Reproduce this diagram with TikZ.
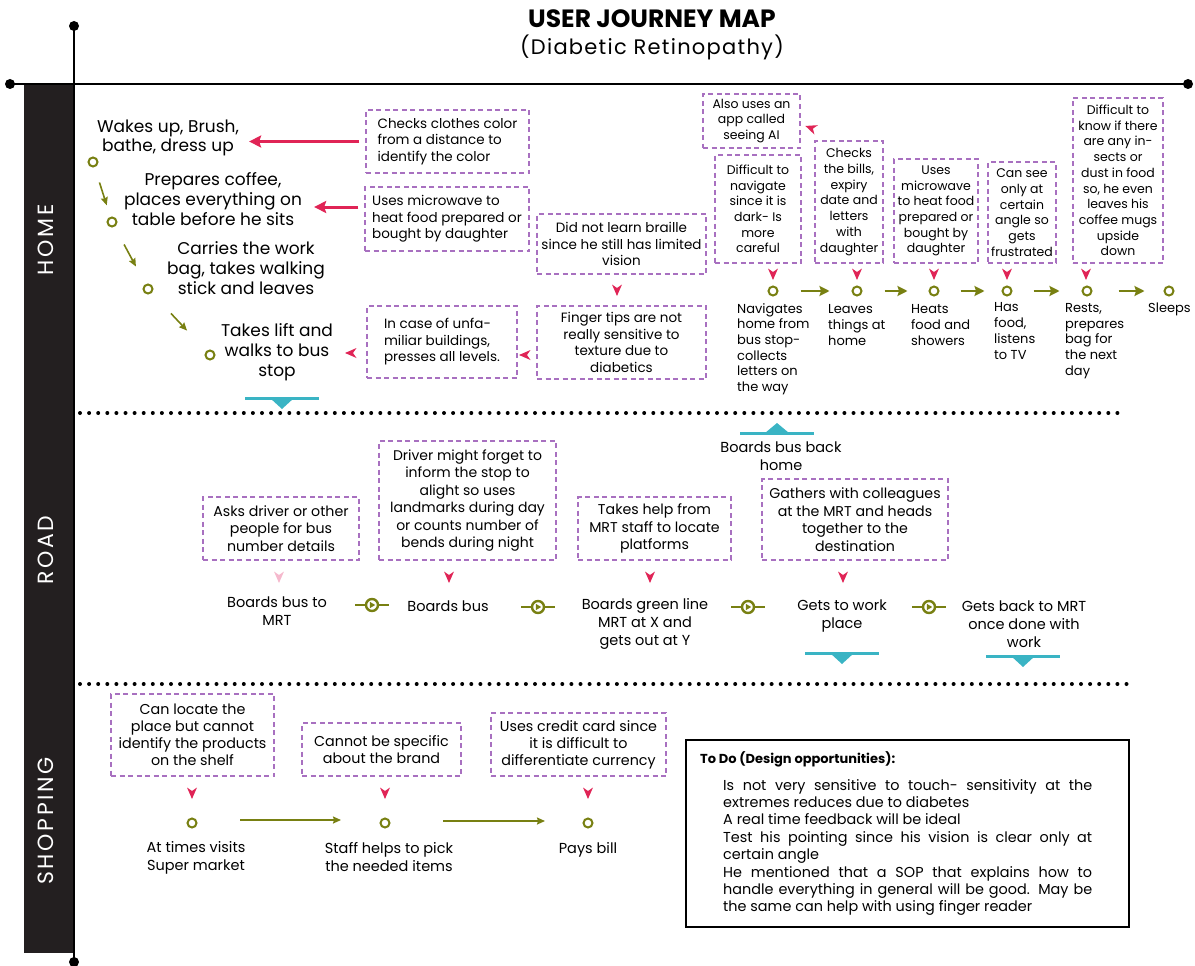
\documentclass[tikz,border=0pt]{standalone}
\usepackage{fontspec}
\setmainfont{Poppins}
\usetikzlibrary{arrows.meta}
\definecolor{olivec}{RGB}{120,128,18}
\definecolor{redc}{RGB}{224,36,86}
\definecolor{purc}{RGB}{168,112,192}
\definecolor{tealc}{RGB}{58,180,196}
\definecolor{bandc}{RGB}{35,31,32}
\definecolor{pinkc}{RGB}{245,185,205}
\tikzset{
  box/.style={draw=purc, line width=1.4pt, dash pattern=on 5pt off 3.5pt, inner sep=0pt, align=center, font=\fontsize{13.5}{16.5}\selectfont},
  lbox/.style={box, align=left},
  sbox/.style={box, font=\fontsize{12.5}{15.7}\selectfont},
  hlab/.style={inner sep=0pt, align=center, font=\fontsize{17}{19.8}\selectfont},
  rlab/.style={inner sep=0pt, align=left, anchor=west, font=\fontsize{13}{15.7}\selectfont},
  clab/.style={inner sep=0pt, align=center, font=\fontsize{14.5}{18}\selectfont},
  odot/.style={circle, draw=olivec, line width=2pt, minimum size=9pt, inner sep=0pt},
  oarr/.style={olivec, line width=1.6pt, -{Stealth[length=8pt,width=7pt,inset=1pt]}},
  oarrb/.style={olivec, line width=2.2pt, -{Stealth[length=10pt,width=10pt,inset=1.5pt]}},
  rarr/.style={redc, line width=3pt, -{Stealth[length=12pt,width=12pt,inset=2pt]}},
  sect/.style={rotate=90, text=white, font=\fontsize{22}{24}\selectfont\addfontfeatures{LetterSpace=12}},
  dotline/.style={line width=4pt, line cap=round, dash pattern=on 0pt off 9.1pt},
  pics/tipc/.style={code={\fill[#1] (0,6) -- (-5,-5.5) -- (0,-2) -- (5,-5.5) -- cycle;}},
  pics/olink/.style={code={
    \draw[olivec, line width=2.6pt] (-17,0) -- (17,0);
    \draw[olivec, line width=2.4pt, fill=white] (0,0) circle (6);
    \fill[olivec] (-2.2,-3.2) -- (3.2,0) -- (-2.2,3.2) -- cycle;}},
  pics/tmark/.style={code={
    \draw[tealc, line width=3pt] (-37,0) -- (37,0);
    \fill[tealc] (-12,0) -- (12,0) -- (0,#1) -- cycle;}},
}
\begin{document}
\begin{tikzpicture}[x=1pt, y=-1pt]
\useasboundingbox (0,0) rectangle (1195,966);
% frame
\fill[bandc] (24,84) rectangle (73,953);
\draw[line width=2.5pt] (10,84) -- (1188,84);
\draw[line width=2.5pt] (74,26) -- (74,962);
\foreach \p in {(10,84),(1188,84),(74,26),(74,962)} \fill \p circle (5);
\node[sect] (shome) at (46,240) {HOME};
\node[sect] (sroad) at (46,550) {ROAD};
\node[sect] (sshop) at (46,821) {SHOPPING};
\draw[dotline] (80,413) -- (1125,413);
\draw[dotline] (80,684) -- (1128,684);
% title
\node[font=\bfseries\fontsize{25}{28}\selectfont] (title) at (652,19) {USER JOURNEY MAP};
\node[font=\fontsize{21}{24}\selectfont\addfontfeatures{LetterSpace=6}] (subtitle) at (652,47) {(Diabetic Retinopathy)};

% ---------------- HOME ----------------
\node[hlab] (wake) at (168,138) {Wakes up, Brush,\\bathe, dress up};
\node[hlab] (prep) at (213,199) {Prepares coffee,\\places everything on\\table before he sits};
\node[hlab] (carr) at (246,268) {Carries the work\\bag, takes walking\\stick and leaves};
\node[hlab] (lift) at (277,352) {Takes lift and\\walks to bus\\stop};
\node[odot] (h1) at (93,162) {};
\node[odot] (h2) at (112,222) {};
\node[odot] (h3) at (148,289) {};
\node[odot] (h4) at (210,355) {};
\draw[oarr, shorten <=16pt, shorten >=12pt] (h1) -- (h2);
\draw[oarr, shorten <=20pt, shorten >=20pt] (h2) -- (h3);
\draw[oarr, shorten <=28pt, shorten >=28pt] (h3) -- (h4);

\node[lbox, minimum width=163pt, minimum height=63pt] (chk) at (447.5,141.5) {Checks clothes color\\from a distance to\\identify the color};
\node[lbox, minimum width=164pt, minimum height=64pt] (mic) at (447,219) {Uses microwave to\\heat food prepared or\\bought by daughter};
\node[box, minimum width=169pt, minimum height=60pt] (brl) at (621.5,244) {Did not learn braille\\since he still has limited\\vision};
\node[box, minimum width=169pt, minimum height=73pt] (fin) at (621.5,342.5) {Finger tips are not\\really sensitive to\\texture due to\\diabetics};
\node[lbox, minimum width=150pt, minimum height=72pt] (unf) at (442,342) {In case of unfa-\\miliar buildings,\\presses all levels.};
\draw[rarr, shorten <=6pt, shorten >=10pt] (chk.west) -- (chk.west -| wake.east);
\draw[rarr, shorten <=6pt, shorten >=12pt] ([yshift=12pt]mic.west) -- ([yshift=12pt]mic.west -| prep.east);
\pic at (617,290) {tipc=redc};
\pic[rotate=-90] at (525,355) {tipc=redc};
\pic[rotate=-90] at (351,353) {tipc=redc};
\pic at (282,398) {tmark=11};

% home right
\node[sbox, minimum width=97pt, minimum height=54pt] (app) at (751.5,121) {Also uses an\\app called\\seeing AI};
\node[sbox, minimum width=86pt, minimum height=108pt] (dif) at (758,209) {Difficult to\\navigate\\since it is\\dark- Is\\more\\careful};
\node[sbox, minimum width=68pt, minimum height=122pt] (bil) at (849,202) {Checks\\the bills,\\expiry\\date and\\letters\\with\\daughter};
\node[sbox, minimum width=84pt, minimum height=104pt] (mic2) at (936,211) {Uses\\microwave\\to heat food\\prepared or\\bought by\\daughter};
\node[sbox, minimum width=68pt, minimum height=101pt] (see) at (1022,212.5) {Can see\\only at\\certain\\angle so\\gets\\frustrated};
\node[sbox, minimum width=90pt, minimum height=165pt] (ins) at (1118,180.5) {Difficult to\\know if there\\are any in-\\sects or\\dust in food\\so, he even\\leaves his\\coffee mugs\\upside\\down};
\pic[rotate=-110] at (811,128) {tipc=redc};
\foreach \x in {773,857,934,1007,1086} \pic at (\x,274) {tipc=redc};
\node[odot] (r1) at (773,291) {};
\node[odot] (r2) at (857,291) {};
\node[odot] (r3) at (934,291) {};
\node[odot] (r4) at (1007,291) {};
\node[odot] (r5) at (1087,291) {};
\node[odot] (r6) at (1169,291) {};
\draw[oarrb, shorten <=22pt, shorten >=22pt] (r1) -- (r2);
\draw[oarrb, shorten <=22pt, shorten >=21pt] (r2) -- (r3);
\draw[oarrb, shorten <=21pt, shorten >=17pt] (r3) -- (r4);
\draw[oarrb, shorten <=21pt, shorten >=22pt] (r4) -- (r5);
\draw[oarrb, shorten <=26pt, shorten >=19pt] (r5) -- (r6);
\node[rlab] (nav) at (737,349) {Navigates\\home from\\bus stop-\\collects\\letters on\\the way};
\node[rlab] (lea) at (828,325) {Leaves\\things at\\home};
\node[rlab] (hea) at (911,325) {Heats\\food and\\showers};
\node[rlab] (has) at (994,331) {Has\\food,\\listens\\to TV};
\node[rlab] (res) at (1065,341) {Rests,\\prepares\\bag for\\the next\\day};
\node[rlab] (sle) at (1148,309) {Sleeps};

% ---------------- ROAD ----------------
\pic at (777,433) {tmark=-10};
\node[clab] (back) at (781,456) {Boards bus back\\home};
\node[box, minimum width=156pt, minimum height=63pt, font=\fontsize{14.2}{17.5}\selectfont] (ask) at (281,528.5) {Asks driver or other\\people for bus\\number details};
\node[box, minimum width=177pt, minimum height=119pt, font=\fontsize{14}{17.5}\selectfont] (drv) at (467.5,500.5) {Driver might forget to\\inform the stop to\\alight so uses\\landmarks during day\\or counts number of\\bends during night};
\node[box, minimum width=153pt, minimum height=63pt, font=\fontsize{14.2}{17.5}\selectfont] (mrt) at (654.5,528.5) {Takes help from\\MRT staff to locate\\platforms};
\node[box, minimum width=186pt, minimum height=81pt, font=\fontsize{14.2}{17.5}\selectfont] (gat) at (855,519.5) {Gathers with colleagues\\at the MRT and heads\\together to the\\destination};
\pic at (279,577) {tipc=pinkc};
\pic at (449,577) {tipc=redc};
\pic at (650,577) {tipc=redc};
\pic at (843,577) {tipc=redc};
\node[clab] (rb1) at (277,611) {Boards bus to\\MRT};
\node[clab] (rb2) at (448,606) {Boards bus};
\node[clab] (rb3) at (645,624) {Boards green line\\MRT at X and\\gets out at Y};
\node[clab] (rb4) at (842,616) {Gets to work\\place};
\node[clab] (rb5) at (1024,624) {Gets back to MRT\\once done with\\work};
\pic at (372,605) {olink};
\pic at (538,607) {olink};
\pic at (748,607) {olink};
\pic at (929,607) {olink};
\pic at (842,653) {tmark=11};
\pic at (1023,656) {tmark=11};

% ---------------- SHOPPING ----------------
\node[box, minimum width=163pt, minimum height=82pt, font=\fontsize{14.3}{17}\selectfont] (loc) at (192.5,735) {Can locate the\\place but cannot\\identify the products\\on the shelf};
\node[box, minimum width=159pt, minimum height=53pt, font=\fontsize{14.3}{17}\selectfont] (brd) at (381.5,749.5) {Cannot be specific\\about the brand};
\node[box, minimum width=175pt, minimum height=63pt, font=\fontsize{14.3}{17}\selectfont] (crd) at (578.5,744.5) {Uses credit card since\\it is difficult to\\differentiate currency};
\pic at (192,793) {tipc=redc};
\pic at (385,793) {tipc=redc};
\pic at (588,793) {tipc=redc};
\node[odot] (s1) at (192,823) {};
\node[odot] (s2) at (385,823) {};
\node[odot] (s3) at (588,823) {};
\draw[oarr, shorten <=48pt, shorten >=44pt] ([yshift=3pt]s1.center) -- ([yshift=3pt]s2.center);
\draw[oarr, shorten <=58pt, shorten >=43pt] ([yshift=2pt]s2.center) -- ([yshift=2pt]s3.center);
\node[clab] (sl1) at (196,858) {At times visits\\Super market};
\node[clab] (sl2) at (389,857) {Staff helps to pick\\the needed items};
\node[clab] (sl3) at (588,850) {Pays bill};

% ---------------- TODO ----------------
\node[draw, line width=2pt, minimum width=443pt, minimum height=187pt, inner sep=0pt] (todo) at (907.5,833.5) {};
\node[anchor=west, inner sep=0pt, font=\bfseries\fontsize{13}{15}\selectfont] (todot) at (700,759) {To Do (Design opportunities):};
\node[anchor=north west, inner sep=0pt] (todol) at (723,779) {\parbox{369pt}{\fontsize{14.4}{17.4}\selectfont\parindent=0pt
Is not very sensitive to touch- sensitivity at the\linebreak extremes reduces due to diabetes\par
A real time feedback will be ideal\par
Test his pointing since his vision is clear only at\linebreak certain angle\par
He mentioned that a SOP that explains how to\linebreak handle everything in general will be good. May be\linebreak the same can help with using finger reader}};
\end{tikzpicture}
\end{document}
